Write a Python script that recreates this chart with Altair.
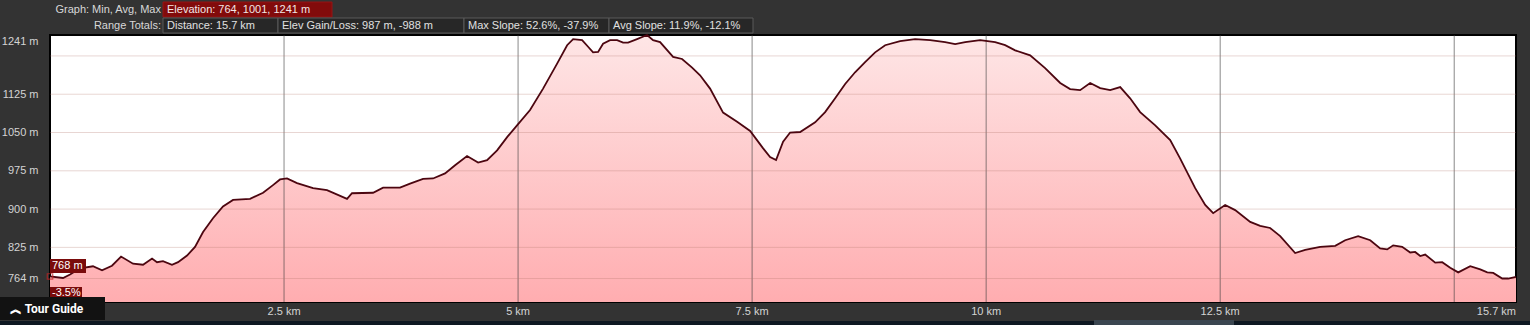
import altair as alt
import pandas as pd

# ---- data ----
km = [0.000, 0.139, 0.214, 0.321, 0.459, 0.556, 0.662, 0.759, 0.887, 0.994,
      1.090, 1.143, 1.207, 1.303, 1.368, 1.464, 1.549, 1.635, 1.741, 1.848,
      1.955, 2.137, 2.276, 2.382, 2.457, 2.532, 2.639, 2.810, 2.959, 3.173,
      3.226, 3.451, 3.558, 3.739, 3.846, 3.985, 4.092, 4.220, 4.327, 4.455,
      4.573, 4.669, 4.776, 4.883, 4.989, 5.128, 5.267, 5.417, 5.524, 5.588,
      5.684, 5.748, 5.801, 5.855, 5.908, 5.983, 6.058, 6.122, 6.175, 6.271,
      6.378, 6.442, 6.517, 6.656, 6.752, 6.859, 6.944, 7.051, 7.190, 7.340,
      7.479, 7.618, 7.692, 7.756, 7.831, 7.906, 8.013, 8.173, 8.280, 8.387,
      8.494, 8.600, 8.707, 8.814, 8.921, 9.081, 9.241, 9.402, 9.562, 9.669,
      9.776, 9.936, 10.096, 10.203, 10.310, 10.470, 10.630, 10.791, 10.897, 11.004,
      11.111, 11.218, 11.325, 11.432, 11.538, 11.645, 11.806, 11.966, 12.073, 12.233,
      12.340, 12.425, 12.553, 12.660, 12.821, 12.927, 13.034, 13.141, 13.301, 13.408,
      13.568, 13.729, 13.835, 13.974, 14.103, 14.209, 14.284, 14.348, 14.444, 14.530,
      14.583, 14.637, 14.690, 14.797, 14.872, 14.957, 15.043, 15.171, 15.278, 15.353,
      15.417, 15.513, 15.577, 15.660]

elev = [768, 765, 772, 784, 788, 780, 789, 807, 793, 791,
        803, 796, 798, 791, 796, 809, 826, 855, 882, 905,
        918, 920, 932, 947, 958, 960, 951, 941, 937, 920,
        931, 932, 942, 942, 950, 959, 960, 970, 986, 1004,
        991, 996, 1015, 1041, 1064, 1094, 1136, 1185, 1221, 1233,
        1231, 1218, 1207, 1208, 1224, 1231, 1231, 1226, 1226, 1233,
        1241, 1231, 1227, 1198, 1194, 1177, 1162, 1136, 1089, 1071,
        1053, 1019, 1002, 996, 1032, 1050, 1051, 1070, 1090, 1117,
        1145, 1168, 1188, 1207, 1221, 1229, 1233, 1231, 1227, 1223,
        1227, 1231, 1227, 1221, 1211, 1201, 1176, 1147, 1135, 1133,
        1147, 1137, 1133, 1139, 1117, 1090, 1064, 1035, 999, 941,
        908, 892, 908, 898, 875, 867, 863, 847, 814, 820,
        826, 828, 839, 847, 839, 823, 821, 829, 826, 815,
        816, 808, 811, 795, 796, 785, 776, 788, 782, 776,
        775, 764, 764, 767]

y_tick_values = [764, 825, 900, 975, 1050, 1125, 1241]
y_grid_values = [764, 825, 900, 975, 1050, 1125, 1200]
x_tick_values = [2.5, 5, 7.5, 10, 12.5]
x_tick_labels = ["2.5 km", "5 km", "7.5 km", "10 km", "12.5 km"]
x_end_value = 15.66
x_end_label = "15.7 km"
x_grid_values = [2.5, 5, 7.5, 10, 12.5, 15]
y_floor = 718

header_row1_label = "Graph: Min, Avg, Max"
header_row1_value = "Elevation: 764, 1001, 1241 m"
header_row2_label = "Range Totals:"
header_row2_values = ["Distance: 15.7 km", "Elev Gain/Loss: 987 m, -988 m",
                      "Max Slope: 52.6%, -37.9%", "Avg Slope: 11.9%, -12.1%"]
hover_elev = "768 m"
hover_slope = "-3.5%"
tour_text = "︽ Tour Guide"

# ---- layout ----
W, H = 1466, 267
FONT = "Liberation Sans"
LABEL_COLOR = "#d4d4d4"
xs = alt.Scale(domain=[0, 15.66], nice=False, zero=False)
ys = alt.Scale(domain=[718, 1241], nice=False, zero=False)

y_axis = alt.Axis(
    values=y_tick_values, labelExpr="datum.value + ' m'",
    grid=False, ticks=False, tickSize=0, domain=False, labelFlush=True, labelOverlap=False,
    labelPadding=12, labelColor=LABEL_COLOR, labelFontSize=11, labelFont=FONT, title=None)

profile = pd.DataFrame({"km": km, "elev": elev})

area = alt.Chart(profile).mark_area(
    clip=True,
    color=alt.Gradient(
        gradient="linear",
        stops=[alt.GradientStop(color="#fee6e6", offset=0),
               alt.GradientStop(color="#ffadb0", offset=1)],
        x1=1, x2=1, y1=0, y2=1),
).encode(
    x=alt.X("km:Q", scale=xs, axis=None),
    y=alt.Y("elev:Q", scale=ys, axis=y_axis),
    y2=alt.Y2(datum=y_floor),
)

vgrid = alt.Chart(pd.DataFrame({"km": x_grid_values})).mark_rule(
    color="#3a3a3a", opacity=0.6, strokeWidth=1
).encode(x=alt.X("km:Q", scale=xs, axis=None))

hgrid = alt.Chart(pd.DataFrame({"elev": y_grid_values})).mark_rule(
    color="#b4786e", opacity=0.3, strokeWidth=1
).encode(y=alt.Y("elev:Q", scale=ys, axis=y_axis))

line = alt.Chart(profile).mark_line(color="#4c0610", strokeWidth=1.8).encode(
    x=alt.X("km:Q", scale=xs, axis=None),
    y=alt.Y("elev:Q", scale=ys, axis=y_axis),
)

marker = alt.Chart(pd.DataFrame({"km": [km[0]], "elev": [elev[0]]})).mark_point(
    shape="square", size=30, filled=False, color="#cc2222", strokeWidth=1.2
).encode(
    x=alt.X("km:Q", scale=xs, axis=None),
    y=alt.Y("elev:Q", scale=ys, axis=y_axis),
)

# x-axis labels, placed through the x scale
xlab = alt.Chart(pd.DataFrame({"km": x_tick_values, "t": x_tick_labels})).mark_text(
    align="center", baseline="middle", color=LABEL_COLOR, fontSize=11, font=FONT
).encode(x=alt.X("km:Q", scale=xs, axis=None), y=alt.value(H + 9.5), text="t:N")

xend = alt.Chart(pd.DataFrame({"km": [x_end_value], "t": [x_end_label]})).mark_text(
    align="right", baseline="middle", color=LABEL_COLOR, fontSize=11, font=FONT
).encode(x=alt.X("km:Q", scale=xs, axis=None), y=alt.value(H + 9.5), text="t:N")


def box(x1, x2, y1, y2, fill, stroke=None):
    kw = dict(fill=fill)
    if stroke is not None:
        kw.update(stroke=stroke, strokeWidth=1)
    return alt.Chart(alt.Data(values=[{}])).mark_rect(**kw).encode(
        x=alt.value(x1), x2=alt.value(x2), y=alt.value(y1), y2=alt.value(y2))


def label(x, y, text, align="left", color="#d8d8d8", size=11, weight="normal", font=FONT):
    return alt.Chart(alt.Data(values=[{}])).mark_text(
        text=text, align=align, baseline="middle", color=color,
        fontSize=size, font=font, fontWeight=weight
    ).encode(x=alt.value(x), y=alt.value(y))


row2_boxes = [(113, 228), (228, 414), (414, 559), (559, 703)]

deco = [
    label(111, -25.5, header_row1_label, align="right"),
    box(113, 282, -33, -18, fill="#820b0b", stroke="#951515"),
    label(117, -25.5, header_row1_value, color="#f2e6e6"),
    label(111, -9.5, header_row2_label, align="right"),
]
for (a, b), t in zip(row2_boxes, header_row2_values):
    deco.append(box(a, b, -17, -2, fill="#272727", stroke="#5a5a5a"))
    deco.append(label(a + 4, -9.5, t, color="#e0e0e0"))

deco += [
    box(0, 36, 224, 238, fill="#7a0b0b"),
    label(2, 231, hover_elev, color="#ffffff"),
    box(0, 32, 252, 263, fill="#7a0b0b"),
    label(2, 257.5, hover_slope, color="#ffffff"),
    box(-50, 1480, 286, 290, fill="#0e1822"),
    box(1044, 1184, 285, 290, fill="#3b4650"),
    box(-50, 55, 262, 285, fill="#121212"),
    label(-40, 274, tour_text, color="#ffffff", size=12, weight="bold", font="Roboto"),
]

chart = alt.layer(area, vgrid, hgrid, line, marker, xlab, xend, *deco).properties(
    width=W, height=H,
    padding={"left": 50, "top": 35, "right": 14, "bottom": 23},
    autosize=alt.AutoSizeParams(type="none"),
).configure(background="#333333").configure_view(
    fill="white", stroke="#000000", strokeWidth=2
)

chart.save("out.html", embed_options={"renderer": "svg", "actions": False})
